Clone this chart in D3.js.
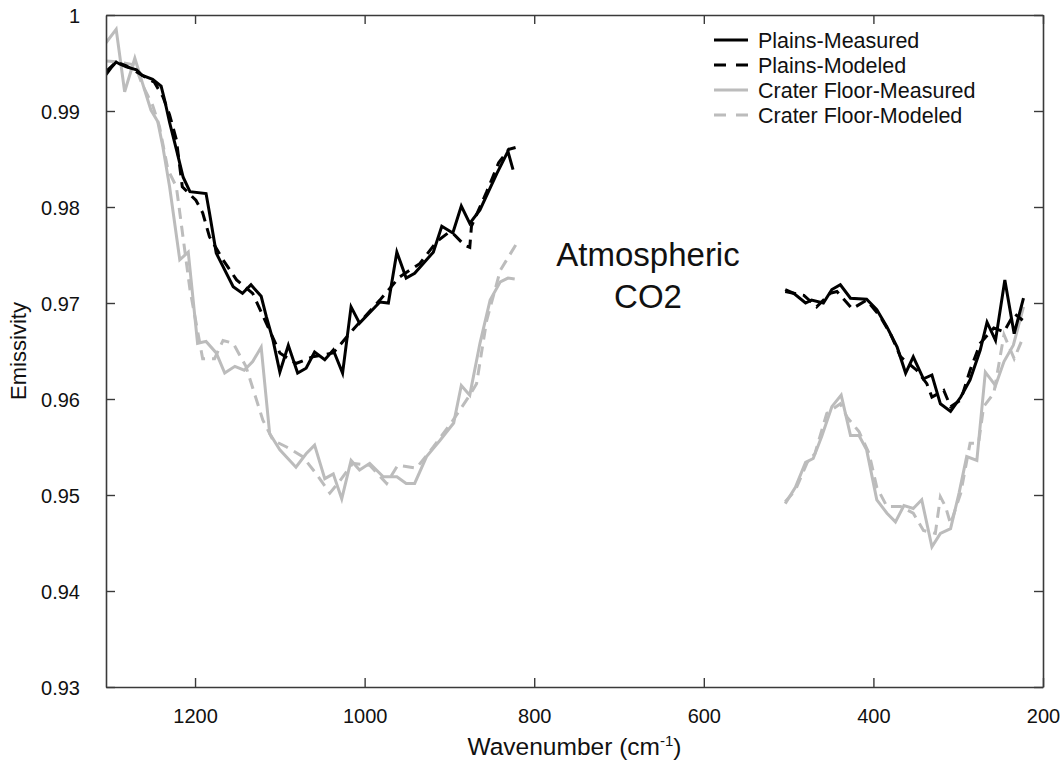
<!DOCTYPE html>
<html>
<head>
<meta charset="utf-8">
<script src="https://cdn.jsdelivr.net/npm/d3@7"></script>
<style>
  html, body { margin: 0; padding: 0; background: #fff; }
  svg { display: block; font-family: "Liberation Sans", Arial, Helvetica, sans-serif; }
</style>
</head>
<body>
<svg id="chart" width="1063" height="761"></svg>
<script>
// Emissivity spectra, [wavenumber (cm-1), emissivity]; null splits the CO2 band gap
const plainsMeasured = [
  [1305,0.9938],[1299,0.9945],[1293,0.9951],[1289,0.9949],[1281,0.9946],[1269,0.9943],
  [1262,0.9937],[1250,0.9933],[1240,0.9926],[1236,0.9912],[1230,0.9888],[1222,0.9860],
  [1214,0.9831],[1206,0.9816],[1187,0.9814],[1183,0.9794],[1175,0.9752],[1155,0.9717],
  [1144,0.9710],[1134,0.9719],[1122,0.9707],[1116,0.9686],[1108,0.9661],[1100,0.9628],
  [1090,0.9656],[1079,0.9627],[1069,0.9632],[1059,0.9649],[1047,0.9641],[1037,0.9651],
  [1026,0.9627],[1016,0.9696],[1006,0.9679],[982,0.9701],[972,0.9700],[962,0.9753],
  [951,0.9726],[941,0.9731],[919,0.9753],[909,0.9780],[896,0.9773],[886,0.9801],
  [876,0.9783],[864,0.9797],[844,0.9835],[831,0.9858],[825,0.9839],
  null,
  [504,0.9714],[494,0.9710],[480,0.9700],[473,0.9703],[459,0.9700],[449,0.9714],
  [439,0.9719],[427,0.9705],[408,0.9704],[396,0.9693],[384,0.9675],[372,0.9654],
  [362,0.9627],[353,0.9644],[341,0.9621],[331,0.9625],[321,0.9595],[309,0.9587],
  [297,0.9602],[286,0.9620],[274,0.9651],[266,0.9680],[256,0.9661],[245,0.9724],
  [234,0.9668],[223,0.9705]
];

const plainsModeled = [
  [1305,0.9941],[1293,0.9951],[1281,0.9947],[1262,0.9937],[1248,0.9930],[1238,0.9915],
  [1230,0.9896],[1222,0.9870],[1215,0.9821],[1199,0.9807],[1191,0.9794],[1183,0.9769],
  [1167,0.9745],[1151,0.9724],[1132,0.9710],[1116,0.9679],[1100,0.9648],[1081,0.9637],
  [1061,0.9644],[1037,0.9648],[1014,0.9672],[982,0.9703],[959,0.9727],[935,0.9741],
  [915,0.9764],[900,0.9774],[894,0.9771],[882,0.9760],[876,0.9758],[874,0.9780],
  [856,0.9816],[842,0.9846],[830,0.9860],[822,0.9862],
  null,
  [504,0.9712],[482,0.9708],[467,0.9696],[451,0.9710],[443,0.9712],[431,0.9700],
  [425,0.9694],[408,0.9703],[392,0.9686],[380,0.9668],[368,0.9644],[349,0.9630],
  [337,0.9616],[331,0.9602],[317,0.9609],[309,0.9592],[297,0.9599],[286,0.9630],
  [274,0.9658],[258,0.9674],[246,0.9670],[234,0.9689],[224,0.9682]
];

const craterMeasured = [
  [1305,0.9971],[1293,0.9985],[1283,0.9920],[1271,0.9955],[1262,0.9929],[1252,0.9901],
  [1244,0.9889],[1238,0.9863],[1230,0.9821],[1218,0.9745],[1208,0.9753],[1197,0.9658],
  [1187,0.9660],[1175,0.9648],[1165,0.9627],[1153,0.9634],[1142,0.9630],[1132,0.9639],
  [1122,0.9654],[1112,0.9564],[1100,0.9547],[1081,0.9529],[1069,0.9543],[1059,0.9552],
  [1047,0.9517],[1037,0.9522],[1027,0.9496],[1016,0.9536],[1006,0.9526],[994,0.9533],
  [978,0.9519],[962,0.9519],[951,0.9512],[941,0.9512],[927,0.9540],[911,0.9557],
  [895,0.9575],[886,0.9614],[876,0.9604],[864,0.9658],[852,0.9703],[840,0.9722],
  [831,0.9726],[823,0.9725],
  null,
  [504,0.9491],[492,0.9508],[480,0.9534],[471,0.9538],[461,0.9561],[449,0.9592],
  [438,0.9604],[427,0.9562],[417,0.9562],[408,0.9547],[396,0.9495],[384,0.9481],
  [374,0.9472],[364,0.9489],[353,0.9486],[343,0.9495],[331,0.9446],[321,0.9460],
  [309,0.9465],[299,0.9502],[290,0.9540],[278,0.9536],[268,0.9628],[256,0.9614],
  [246,0.9639],[235,0.9656],[223,0.9696]
];

const craterModeled = [
  [1305,0.9952],[1289,0.9951],[1271,0.9948],[1262,0.9927],[1250,0.9906],[1242,0.9884],
  [1232,0.9839],[1222,0.9821],[1206,0.9714],[1191,0.9642],[1177,0.9642],[1167,0.9661],
  [1155,0.9658],[1140,0.9634],[1120,0.9578],[1108,0.9557],[1092,0.9550],[1073,0.9540],
  [1057,0.9522],[1041,0.9502],[1029,0.9515],[1014,0.9533],[994,0.9531],[974,0.9512],
  [961,0.9531],[939,0.9528],[919,0.9550],[898,0.9575],[876,0.9604],[868,0.9616],
  [856,0.9682],[840,0.9734],[829,0.9750],[818,0.9766],
  null,
  [504,0.9493],[492,0.9505],[478,0.9534],[469,0.9543],[455,0.9585],[439,0.9595],
  [431,0.9581],[417,0.9566],[405,0.9543],[396,0.9508],[384,0.9488],[368,0.9488],
  [353,0.9481],[341,0.9463],[327,0.9460],[321,0.9498],[315,0.9488],[309,0.9470],
  [297,0.9502],[286,0.9554],[276,0.9554],[270,0.9592],[258,0.9606],[246,0.9667],
  [234,0.9642],[224,0.9663]
];

const xTickValues = [1200, 1000, 800, 600, 400, 200];
const yTickValues = [0.93, 0.94, 0.95, 0.96, 0.97, 0.98, 0.99, 1];
const yTickLabels = ["0.93", "0.94", "0.95", "0.96", "0.97", "0.98", "0.99", "1"];

const seriesNames = ["Plains-Measured", "Plains-Modeled", "Crater Floor-Measured", "Crater Floor-Modeled"];
const seriesData = [plainsMeasured, plainsModeled, craterMeasured, craterModeled];
const seriesColors = ["#000000", "#000000", "#bcbcbc", "#bcbcbc"];
const seriesDashed = [false, true, false, true];

const margin = { left: 106, right: 20, top: 15, bottom: 74 };
const W = 1063, H = 761;
const iw = W - margin.left - margin.right;
const ih = H - margin.top - margin.bottom;

const svg = d3.select("#chart");
const g = svg.append("g").attr("transform", `translate(${margin.left},${margin.top})`);

const x = d3.scaleLinear().domain([1305, 200]).range([0, iw]);
const y = d3.scaleLinear().domain([0.93, 1]).range([ih, 0]);

g.append("clipPath").attr("id", "plot-clip")
  .append("rect").attr("width", iw).attr("height", ih);

const line = d3.line()
  .defined(d => d !== null)
  .x(d => x(d[0]))
  .y(d => y(d[1]));

// series drawn back to front: crater lines first, plains on top
const order = [3, 2, 1, 0];
const lines = g.append("g").attr("clip-path", "url(#plot-clip)");
order.forEach(i => {
  lines.append("path")
    .datum(seriesData[i])
    .attr("fill", "none")
    .attr("stroke", seriesColors[i])
    .attr("stroke-width", 3)
    .attr("stroke-linejoin", "miter")
    .attr("stroke-dasharray", seriesDashed[i] ? "11,7" : null)
    .attr("d", line);
});

// axes with inward ticks on all four sides
const tickLen = 9;
const frameColor = "#3a3a3a";

const xBottom = g.append("g").attr("transform", `translate(0,${ih})`)
  .call(d3.axisBottom(x).tickValues(xTickValues).tickSizeInner(-tickLen).tickSizeOuter(0).tickPadding(22).tickFormat(d3.format("d")));
const xTop = g.append("g")
  .call(d3.axisTop(x).tickValues(xTickValues).tickSizeInner(-tickLen).tickSizeOuter(0).tickFormat(""));
const yLeft = g.append("g")
  .call(d3.axisLeft(y).tickValues(yTickValues).tickSizeInner(-tickLen).tickSizeOuter(0).tickPadding(26)
    .tickFormat((d, i) => yTickLabels[i]));
const yRight = g.append("g").attr("transform", `translate(${iw},0)`)
  .call(d3.axisRight(y).tickValues(yTickValues).tickSizeInner(-tickLen).tickSizeOuter(0).tickFormat(""));

[xBottom, xTop, yLeft, yRight].forEach(a => {
  a.select(".domain").attr("stroke", frameColor).attr("stroke-width", 1.6);
  a.selectAll(".tick line").attr("stroke", frameColor).attr("stroke-width", 1.4);
  a.selectAll(".tick text").attr("fill", "#111").style("font-size", "20px")
    .style("font-family", "'Liberation Sans', Arial, Helvetica, sans-serif");
});
yLeft.selectAll(".tick text").attr("dy", "0.36em");

// axis titles
const xTitle = svg.append("text")
  .attr("x", margin.left + iw / 2)
  .attr("y", 755)
  .attr("text-anchor", "middle")
  .style("font-size", "24.5px")
  .attr("fill", "#111");
xTitle.append("tspan").text("Wavenumber (cm");
xTitle.append("tspan").text("-1").attr("dy", "-9").style("font-size", "15px");
xTitle.append("tspan").text(")").attr("dy", "9");

svg.append("text")
  .attr("transform", `translate(26,${margin.top + ih / 2}) rotate(-90)`)
  .attr("text-anchor", "middle")
  .style("font-size", "22px")
  .attr("fill", "#111")
  .text("Emissivity");

// band annotation
const note = svg.append("text")
  .attr("text-anchor", "middle")
  .style("font-size", "33px")
  .attr("fill", "#111");
note.append("tspan").attr("x", 648).attr("y", 266).text("Atmospheric");
note.append("tspan").attr("x", 648).attr("y", 308).text("CO2");

// legend
const legend = svg.append("g").attr("transform", "translate(714,40)");
seriesNames.forEach((name, i) => {
  const row = legend.append("g").attr("transform", `translate(0,${i * 25})`);
  row.append("line")
    .attr("x1", 0).attr("x2", 34).attr("y1", 0).attr("y2", 0)
    .attr("stroke", seriesColors[i])
    .attr("stroke-width", 3)
    .attr("stroke-dasharray", seriesDashed[i] ? "12,10" : null);
  row.append("text")
    .attr("x", 44).attr("y", 0).attr("dy", "0.36em")
    .style("font-size", "21.5px")
    .attr("fill", "#111")
    .text(name);
});
</script>
</body>
</html>
